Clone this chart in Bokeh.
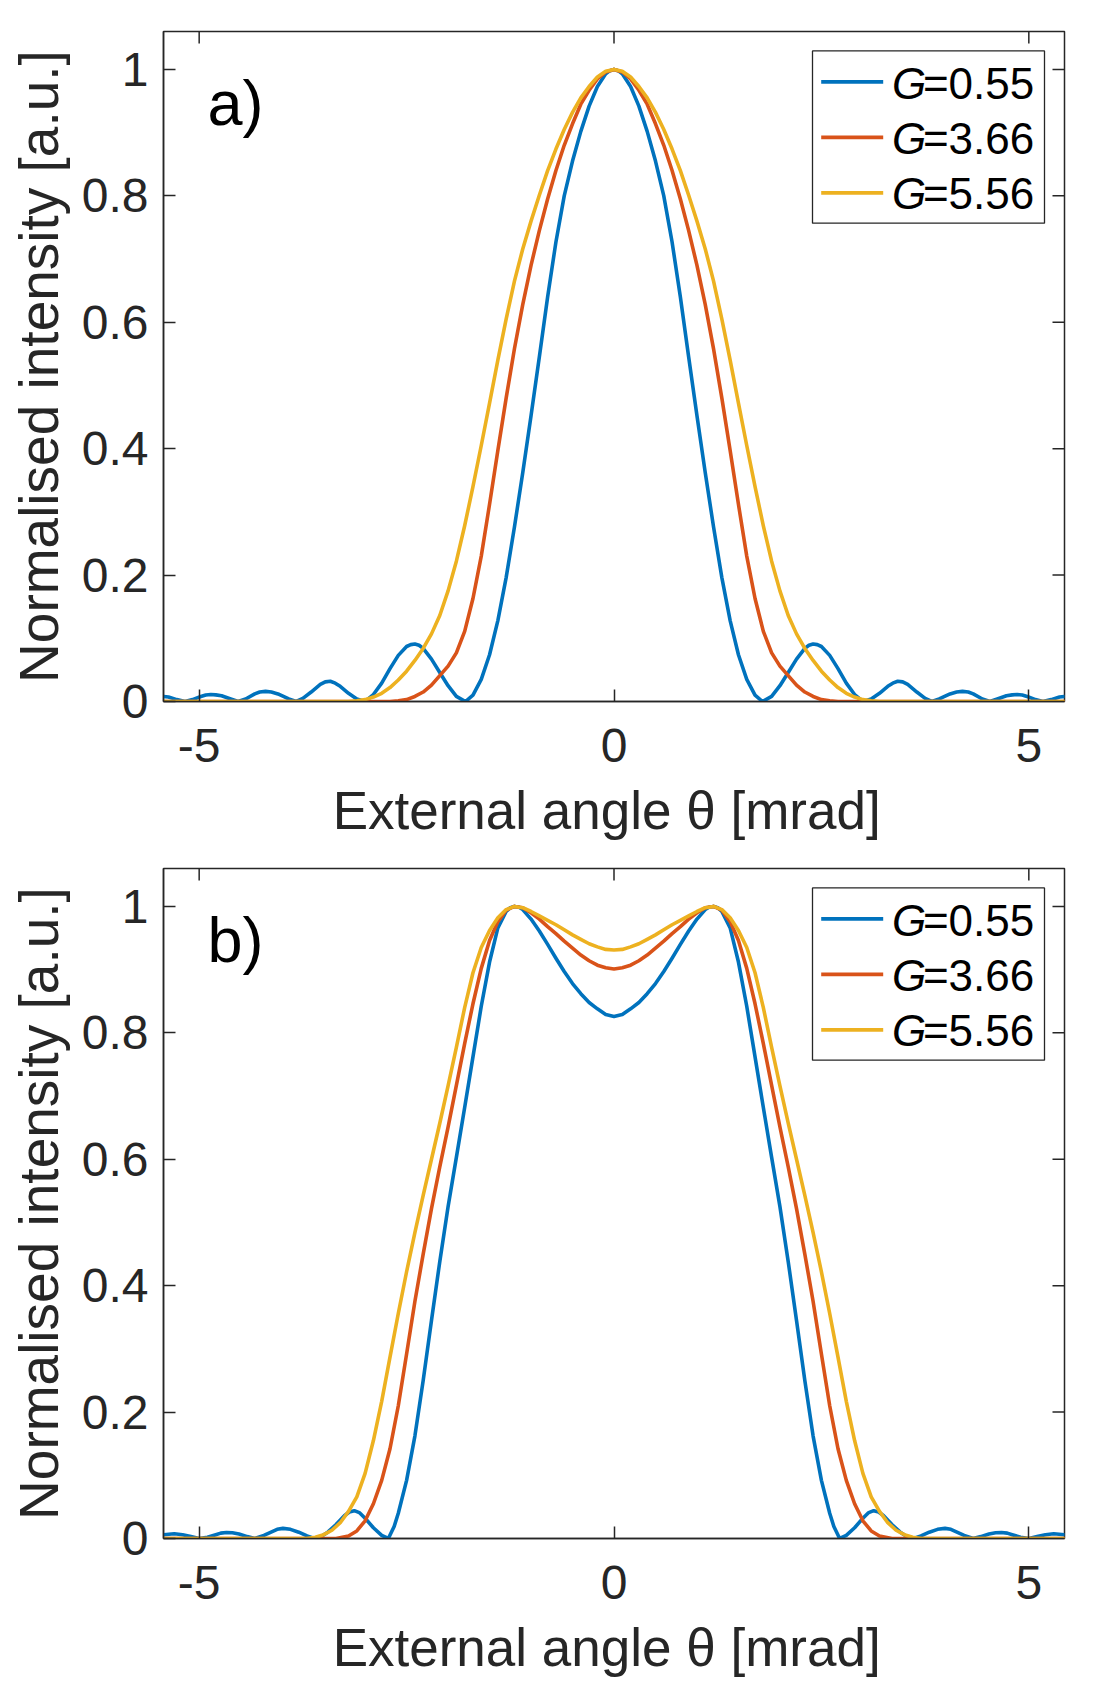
from bokeh.core.properties import value
from bokeh.embed import file_html
from bokeh.layouts import column
from bokeh.models import FixedTicker, Range1d
from bokeh.plotting import figure
from bokeh.resources import INLINE

# ---------------------------------------------------------------------------
# Far-field intensity profiles, external angle theta in mrad
# ---------------------------------------------------------------------------
G_LABELS = ["0.55", "3.66", "5.56"]

# panel a)
THETA_A_G055 = [-5.43, -5.37, -5.27, -5.17, -5.08, -4.98, -4.92, -4.86, -4.8, -4.73,
                -4.62, -4.53, -4.44, -4.33, -4.27, -4.2, -4.13, -4.05, -3.92, -3.83,
                -3.75, -3.65, -3.54, -3.48, -3.42, -3.36, -3.3, -3.2, -3.1, -3.0,
                -2.9, -2.8, -2.7, -2.6, -2.5, -2.45, -2.4, -2.35, -2.3, -2.2,
                -2.1, -2.0, -1.9, -1.79, -1.7, -1.6, -1.5, -1.4, -1.3, -1.2,
                -1.1, -1.0, -0.9, -0.8, -0.7, -0.6, -0.5, -0.4, -0.3, -0.2,
                -0.1, -0.05, 0.0,
                0.05, 0.1, 0.2, 0.3, 0.4, 0.5, 0.6, 0.7, 0.8, 0.9,
                1.0, 1.1, 1.2, 1.3, 1.4, 1.5, 1.6, 1.7, 1.79, 1.9,
                2.0, 2.1, 2.2, 2.3, 2.35, 2.4, 2.45, 2.5, 2.6, 2.7,
                2.8, 2.9, 3.0, 3.1, 3.2, 3.3, 3.36, 3.42, 3.48, 3.54,
                3.65, 3.75, 3.83, 3.92, 4.05, 4.13, 4.2, 4.27, 4.33, 4.44,
                4.53, 4.62, 4.73, 4.8, 4.86, 4.92, 4.98, 5.08, 5.17, 5.27,
                5.37, 5.43]
INT_A_G055 = [0.008, 0.007, 0.003, 0.0, 0.003, 0.008, 0.0103, 0.011, 0.0105, 0.009,
              0.004, 0.0, 0.004, 0.012, 0.015, 0.016, 0.015, 0.012, 0.004, 0.0,
              0.005, 0.015, 0.027, 0.031, 0.032, 0.029, 0.024, 0.013, 0.004, 0.0,
              0.011, 0.029, 0.052, 0.073, 0.087, 0.090, 0.091, 0.089, 0.084, 0.067,
              0.046, 0.025, 0.008, 0.0, 0.010, 0.035, 0.074, 0.128, 0.196, 0.276,
              0.362, 0.452, 0.545, 0.640, 0.727, 0.800, 0.855, 0.902, 0.942, 0.973,
              0.993, 0.998, 1.000,
              0.998, 0.993, 0.973, 0.942, 0.902, 0.855, 0.800, 0.727, 0.640, 0.545,
              0.452, 0.362, 0.276, 0.196, 0.128, 0.074, 0.035, 0.010, 0.0, 0.008,
              0.025, 0.046, 0.067, 0.084, 0.089, 0.091, 0.090, 0.087, 0.073, 0.052,
              0.029, 0.011, 0.0, 0.004, 0.013, 0.024, 0.029, 0.032, 0.031, 0.027,
              0.015, 0.005, 0.0, 0.004, 0.012, 0.015, 0.016, 0.015, 0.012, 0.004,
              0.0, 0.004, 0.009, 0.0105, 0.011, 0.0103, 0.008, 0.003, 0.0, 0.003,
              0.007, 0.008]

THETA_A_G366 = [-5.43, -2.7, -2.6, -2.5, -2.4, -2.3, -2.2, -2.1, -2.0, -1.9,
                -1.8, -1.7, -1.6, -1.5, -1.4, -1.3, -1.2, -1.1, -1.0, -0.9,
                -0.8, -0.7, -0.6, -0.5, -0.4, -0.3, -0.2, -0.1, 0.0, 0.1,
                0.2, 0.3, 0.4, 0.5, 0.6, 0.7, 0.8, 0.9,
                1.0, 1.1, 1.2, 1.3, 1.4, 1.5, 1.6, 1.7, 1.8, 1.9,
                2.0, 2.1, 2.2, 2.3, 2.4, 2.5, 2.6, 2.7, 5.43]
INT_A_G366 = [0.0, 0.0, 0.001, 0.003, 0.008, 0.015, 0.026, 0.041, 0.056, 0.077,
              0.111, 0.163, 0.230, 0.312, 0.397, 0.480, 0.558, 0.628, 0.690, 0.745,
              0.795, 0.840, 0.880, 0.914, 0.945, 0.967, 0.985, 0.996, 1.000, 0.996,
              0.985, 0.967, 0.945, 0.914, 0.880, 0.840, 0.795, 0.745,
              0.690, 0.628, 0.558, 0.480, 0.397, 0.312, 0.230, 0.163, 0.111, 0.077,
              0.056, 0.041, 0.026, 0.015, 0.008, 0.003, 0.001, 0.0, 0.0]

THETA_A_G556 = [-5.43, -3.2, -3.1, -3.0, -2.9, -2.8, -2.7, -2.6, -2.5, -2.4,
                -2.3, -2.2, -2.1, -2.0, -1.9, -1.8, -1.7, -1.6, -1.5, -1.4,
                -1.3, -1.2, -1.1, -1.0, -0.9, -0.8, -0.7, -0.6, -0.5, -0.4,
                -0.3, -0.2, -0.1, 0.0, 0.1, 0.2, 0.3,
                0.4, 0.5, 0.6, 0.7, 0.8, 0.9, 1.0, 1.1, 1.2, 1.3, 1.4, 1.5, 1.6,
                1.7, 1.8, 1.9, 2.0, 2.1, 2.2, 2.3, 2.4, 2.5, 2.6,
                2.7, 2.8, 2.9, 3.0, 3.1, 3.2, 5.43]
INT_A_G556 = [0.0, 0.0, 0.001, 0.003, 0.007, 0.013, 0.022, 0.034, 0.048, 0.065,
              0.084, 0.107, 0.136, 0.175, 0.222, 0.278, 0.340, 0.405, 0.472, 0.540,
              0.605, 0.665, 0.716, 0.760, 0.801, 0.840, 0.874, 0.905, 0.932, 0.955,
              0.973, 0.988, 0.997, 1.000, 0.997, 0.988, 0.973,
              0.955, 0.932, 0.905, 0.874, 0.840, 0.801, 0.760, 0.716, 0.665, 0.605, 0.540, 0.472, 0.405,
              0.340, 0.278, 0.222, 0.175, 0.136, 0.107, 0.084, 0.065, 0.048, 0.034,
              0.022, 0.013, 0.007, 0.003, 0.001, 0.0, 0.0]

# panel b)
THETA_B_G055 = [-5.43, -5.3, -5.2, -5.1, -5.0, -4.9, -4.8, -4.74, -4.67, -4.6,
                -4.52, -4.42, -4.33, -4.22, -4.12, -4.06, -3.99, -3.9, -3.8, -3.7,
                -3.61, -3.53, -3.45, -3.35, -3.25, -3.19, -3.13, -3.07, -3.0, -2.9,
                -2.8, -2.72, -2.65, -2.6, -2.5, -2.4, -2.3, -2.2, -2.1, -2.0,
                -1.9, -1.8, -1.7, -1.6, -1.5, -1.4, -1.3, -1.25, -1.2, -1.15,
                -1.1, -1.0, -0.9, -0.8, -0.7, -0.6, -0.5, -0.4, -0.3, -0.2,
                -0.1, 0.0,
                0.1, 0.2, 0.3, 0.4, 0.5, 0.6, 0.7, 0.8, 0.9, 1.0,
                1.1, 1.15, 1.2, 1.25, 1.3, 1.4, 1.5, 1.6, 1.7, 1.8,
                1.9, 2.0, 2.1, 2.2, 2.3, 2.4, 2.5, 2.6, 2.65, 2.72,
                2.8, 2.9, 3.0, 3.07, 3.13, 3.19, 3.25, 3.35, 3.45, 3.53,
                3.61, 3.7, 3.8, 3.9, 3.99, 4.06, 4.12, 4.22, 4.33, 4.42,
                4.52, 4.6, 4.67, 4.74, 4.8, 4.9, 5.0, 5.1, 5.2, 5.3,
                5.43]
INT_B_G055 = [0.006, 0.0075, 0.006, 0.003, 0.0, 0.002, 0.006, 0.0085, 0.0095, 0.009,
              0.007, 0.003, 0.0, 0.005, 0.011, 0.0145, 0.016, 0.0145, 0.010, 0.004,
              0.0, 0.003, 0.010, 0.022, 0.036, 0.042, 0.044, 0.041, 0.032, 0.017,
              0.005, 0.0, 0.019, 0.040, 0.092, 0.162, 0.250, 0.345, 0.438, 0.525,
              0.603, 0.682, 0.762, 0.842, 0.912, 0.966, 0.992, 0.998, 1.000, 0.999,
              0.995, 0.980, 0.961, 0.940, 0.918, 0.897, 0.878, 0.862, 0.848, 0.838,
              0.829, 0.826,
              0.829, 0.838, 0.848, 0.862, 0.878, 0.897, 0.918, 0.940, 0.961, 0.980,
              0.995, 0.999, 1.000, 0.998, 0.992, 0.966, 0.912, 0.842, 0.762, 0.682,
              0.603, 0.525, 0.438, 0.345, 0.250, 0.162, 0.092, 0.040, 0.019, 0.0,
              0.005, 0.017, 0.032, 0.041, 0.044, 0.042, 0.036, 0.022, 0.010, 0.003,
              0.0, 0.004, 0.010, 0.0145, 0.016, 0.0145, 0.011, 0.005, 0.0, 0.003,
              0.007, 0.009, 0.0095, 0.0085, 0.006, 0.002, 0.0, 0.003, 0.006, 0.0075,
              0.006]

THETA_B_G366 = [-5.43, -3.35, -3.2, -3.1, -3.0, -2.9, -2.8, -2.7, -2.6, -2.5,
                -2.4, -2.3, -2.2, -2.1, -2.0, -1.9, -1.8, -1.7, -1.6, -1.5,
                -1.4, -1.3, -1.2, -1.1, -1.0, -0.9, -0.8, -0.7, -0.6, -0.5, -0.4, -0.3, -0.2, -0.1, 0.0,
                0.1, 0.2, 0.3, 0.4, 0.5, 0.6, 0.7, 0.8, 0.9, 1.0, 1.1, 1.2, 1.3, 1.4, 1.5,
                1.6, 1.7, 1.8, 1.9, 2.0, 2.1, 2.2, 2.3, 2.4, 2.5,
                2.6, 2.7, 2.8, 2.9, 3.0, 3.1, 3.2, 3.35, 5.43]
INT_B_G366 = [0.0, 0.0, 0.004, 0.012, 0.028, 0.055, 0.092, 0.142, 0.210, 0.292,
              0.375, 0.450, 0.522, 0.588, 0.651, 0.717, 0.783, 0.846, 0.902, 0.946,
              0.976, 0.994, 1.000, 0.998, 0.990, 0.980, 0.968, 0.957, 0.945, 0.934, 0.923, 0.914, 0.907, 0.903, 0.901,
              0.903, 0.907, 0.914, 0.923, 0.934, 0.945, 0.957, 0.968, 0.980, 0.990, 0.998, 1.000, 0.994, 0.976, 0.946,
              0.902, 0.846, 0.783, 0.717, 0.651, 0.588, 0.522, 0.450, 0.375, 0.292,
              0.210, 0.142, 0.092, 0.055, 0.028, 0.012, 0.004, 0.0, 0.0]

THETA_B_G556 = [-5.43, -3.7, -3.6, -3.5, -3.4, -3.3, -3.2, -3.1, -3.0, -2.9,
                -2.8, -2.7, -2.6, -2.5, -2.4, -2.3, -2.2, -2.1, -2.0, -1.9,
                -1.8, -1.7, -1.6, -1.5, -1.4, -1.3, -1.2, -1.1, -1.0, -0.9, -0.8, -0.7,
                -0.6, -0.5, -0.4, -0.3, -0.2, -0.1, 0.0, 0.1, 0.2, 0.3, 0.4, 0.5, 0.6, 0.7, 0.8, 0.9, 1.0, 1.1,
                1.2, 1.3, 1.4, 1.5, 1.6, 1.7, 1.8, 1.9, 2.0, 2.1,
                2.2, 2.3, 2.4, 2.5, 2.6, 2.7, 2.8, 2.9, 3.0, 3.1,
                3.2, 3.3, 3.4, 3.5, 3.6, 3.7, 5.43]
INT_B_G556 = [0.0, 0.0, 0.002, 0.006, 0.013, 0.025, 0.043, 0.066, 0.103, 0.155,
              0.217, 0.287, 0.356, 0.422, 0.484, 0.543, 0.600, 0.657, 0.716, 0.777,
              0.840, 0.895, 0.935, 0.962, 0.982, 0.995, 1.000, 0.998, 0.992, 0.985, 0.978, 0.971,
              0.963, 0.955, 0.948, 0.941, 0.936, 0.932, 0.931, 0.932, 0.936, 0.941, 0.948, 0.955, 0.963, 0.971, 0.978, 0.985, 0.992, 0.998,
              1.000, 0.995, 0.982, 0.962, 0.935, 0.895, 0.840, 0.777, 0.716, 0.657,
              0.600, 0.543, 0.484, 0.422, 0.356, 0.287, 0.217, 0.155, 0.103, 0.066,
              0.043, 0.025, 0.013, 0.006, 0.002, 0.0, 0.0]

X_TICKS = [-5, 0, 5]
X_TICK_LABELS = ["-5", "0", "5"]
Y_TICKS = [0, 0.2, 0.4, 0.6, 0.8, 1]
Y_TICK_LABELS = ["0", "0.2", "0.4", "0.6", "0.8", "1"]

# trailing no-break space nudges the centred title slightly to the left
X_TITLE = "External angle \u03b8 [mrad]\u00a0"
Y_TITLE = "Normalised intensity [a.u.]"

# ---------------------------------------------------------------------------
# Styling / layout
# ---------------------------------------------------------------------------
COLORS = ["#0072BD", "#D95319", "#EDB120"]
AX_COLOR = "#262626"
SANS = "Liberation Sans"

X_LIM = (-5.43, 5.43)
Y_LIM = (0.0, 1.06)
FRAME_W, FRAME_H = 901, 670
BORDER_L, BORDER_R, BORDER_B = 163, 31, 145
PANEL_TOPS = (31, 22)       # space above the box of the upper / lower panel
LINE_W = 3.6
TICK_LEN = 12


def fx(px):
    """Pixel offset from the left frame edge -> data x."""
    return X_LIM[0] + px * (X_LIM[1] - X_LIM[0]) / FRAME_W


def fy(px):
    """Pixel offset below the top frame edge -> data y."""
    return Y_LIM[1] - px * (Y_LIM[1] - Y_LIM[0]) / FRAME_H


def style_axis(axis, ticks, labels, standoff, title_size):
    axis.ticker = FixedTicker(ticks=ticks)
    axis.major_label_overrides = {t: s for t, s in zip(ticks, labels)}
    axis.major_tick_in = TICK_LEN
    axis.major_tick_out = 0
    axis.minor_tick_line_color = None
    axis.major_tick_line_color = AX_COLOR
    axis.major_tick_line_width = 1.5
    axis.axis_line_color = AX_COLOR
    axis.axis_line_width = 1.5
    axis.major_label_text_font = SANS
    axis.major_label_text_color = AX_COLOR
    axis.major_label_text_font_size = "48px"
    axis.major_label_standoff = standoff
    axis.axis_label_text_font = SANS
    axis.axis_label_text_font_size = title_size
    axis.axis_label_text_font_style = "normal"
    axis.axis_label_text_color = AX_COLOR


def make_panel(curves, tag, top_border):
    p = figure(width=BORDER_L + FRAME_W + BORDER_R,
               height=top_border + FRAME_H + BORDER_B,
               x_range=Range1d(*X_LIM), y_range=Range1d(*Y_LIM),
               min_border_left=BORDER_L, min_border_right=BORDER_R,
               min_border_top=top_border, min_border_bottom=BORDER_B,
               output_backend="svg", toolbar_location=None)
    p.xgrid.visible = False
    p.ygrid.visible = False
    p.background_fill_color = "white"
    p.border_fill_color = "white"
    p.outline_line_color = AX_COLOR
    p.outline_line_width = 1.5

    style_axis(p.xaxis[0], X_TICKS, X_TICK_LABELS, 27, "53px")
    style_axis(p.yaxis[0], Y_TICKS, Y_TICK_LABELS, 15, "55px")
    p.xaxis[0].axis_label = X_TITLE
    p.xaxis[0].axis_label_standoff = 16
    p.yaxis[0].axis_label = Y_TITLE
    p.yaxis[0].axis_label_standoff = 9

    # mirrored inward ticks on the top and right edges of the box
    p.segment(x0=X_TICKS, y0=[Y_LIM[1]] * len(X_TICKS),
              x1=X_TICKS, y1=[fy(TICK_LEN)] * len(X_TICKS),
              line_color=AX_COLOR, line_width=1.5)
    p.segment(x0=[X_LIM[1]] * len(Y_TICKS), y0=Y_TICKS,
              x1=[fx(FRAME_W - TICK_LEN)] * len(Y_TICKS), y1=Y_TICKS,
              line_color=AX_COLOR, line_width=1.5)

    for (xs, ys), color in zip(curves, COLORS):
        assert len(xs) == len(ys)
        p.line(xs, ys, line_color=color, line_width=LINE_W,
               line_join="round", line_cap="round")

    # legend box in the upper right corner
    p.quad(left=[fx(649)], right=[fx(881)], top=[fy(19.4)], bottom=[fy(191.7)],
           fill_color="white", line_color=AX_COLOR, line_width=1.3)
    for i, (g, color) in enumerate(zip(G_LABELS, COLORS)):
        yl = fy(50.4 + 55.5 * i)
        p.line([fx(657.7), fx(719.7)], [yl, yl], line_color=color, line_width=LINE_W)
        yb = fy(52 + 55 * i)
        p.text(x=[fx(728.4)], y=[yb], text=["G"], text_font=value(SANS),
               text_font_style="italic", text_font_size="44px",
               text_baseline="alphabetic", text_align="left", text_color="black")
        p.text(x=[fx(759.4)], y=[yb], text=["=" + g], text_font=value(SANS),
               text_font_size="44px", text_baseline="alphabetic",
               text_align="left", text_color="black")

    # panel tag
    p.text(x=[fx(44)], y=[fy(71)], text=[tag], text_font=value(SANS),
           text_font_size="63px", text_baseline="alphabetic", text_align="left",
           text_color="black")
    return p


panel_a = make_panel([(THETA_A_G055, INT_A_G055),
                      (THETA_A_G366, INT_A_G366),
                      (THETA_A_G556, INT_A_G556)], "a)", PANEL_TOPS[0])
panel_b = make_panel([(THETA_B_G055, INT_B_G055),
                      (THETA_B_G366, INT_B_G366),
                      (THETA_B_G556, INT_B_G556)], "b)", PANEL_TOPS[1])

layout = column(panel_a, panel_b)
open("out.html", "w").write(file_html(layout, INLINE))
